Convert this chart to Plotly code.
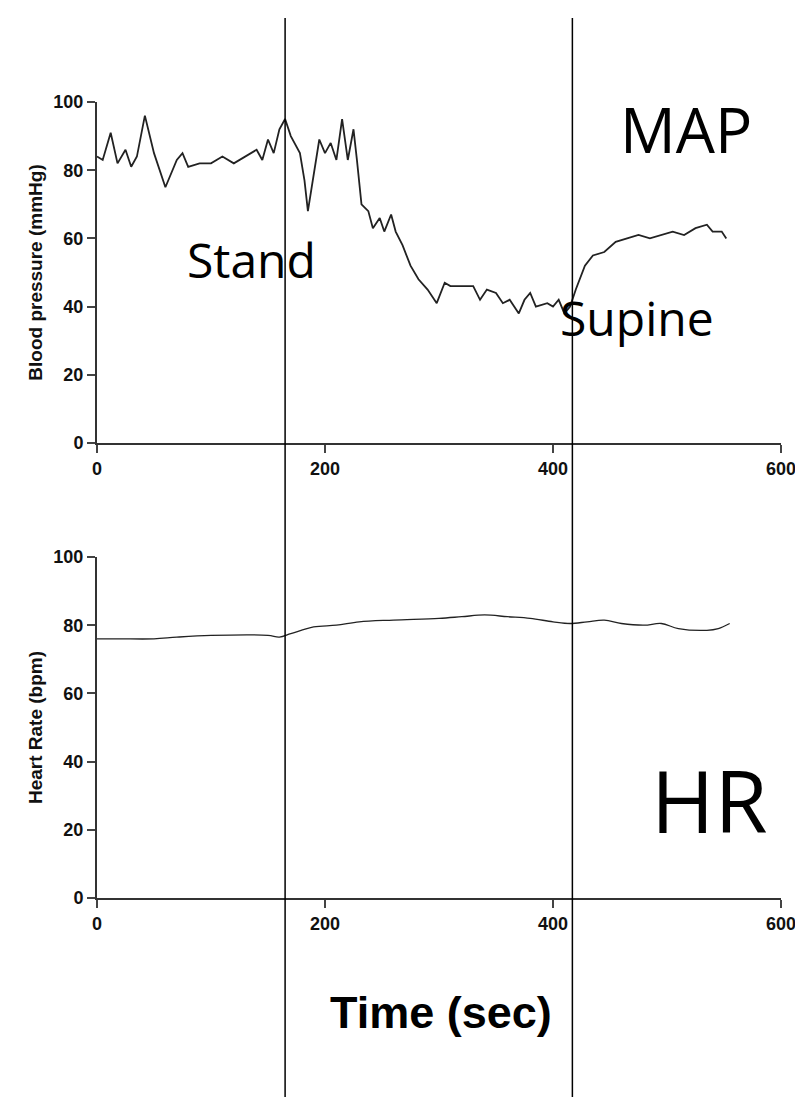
import plotly.graph_objects as go

map_t = [0,5,12,18,25,30,35,42,50,60,70,75,80,90,100,110,120,130,140,145,150,155,160,165,170,178,182,185,190,195,200,205,210,215,220,225,228,232,238,242,248,252,258,262,268,275,282,290,298,305,310,320,330,336,342,350,356,362,370,375,380,385,395,400,405,410,415,420,428,435,445,455,465,475,485,495,505,515,525,535,540,548,552]
map_v = [84,83,91,82,86,81,84,96,85,75,83,85,81,82,82,84,82,84,86,83,89,85,92,95,90,85,77,68,78,89,85,88,83,95,83,92,83,70,68,63,66,62,67,62,58,52,48,45,41,47,46,46,46,42,45,44,41,42,38,42,44,40,41,40,42,38,40,45,52,55,56,59,60,61,60,61,62,61,63,64,62,62,60]
hr_t = [0,20,50,70,100,150,160,170,190,210,230,260,300,320,340,360,380,400,415,430,445,460,480,495,510,535,545,555]
hr_v = [76,76,76,76.5,77,77,76.5,77.5,79.5,80,81,81.5,82,82.5,83,82.5,82,81,80.5,81,81.5,80.5,80,80.5,79,78.5,79,80.5]
event_t = [165, 417]
x_ticks = [0,200,400,600]
y_ticks = [0,20,40,60,80,100]

def fx(px): return (px-12)/783
def fy(py): return 1-(py-16)/1082

fig = go.Figure()
fig.add_trace(go.Scatter(x=map_t, y=map_v, mode="lines", line=dict(color="#222", width=1.8), xaxis="x", yaxis="y"))
fig.add_trace(go.Scatter(x=hr_t, y=hr_v, mode="lines", line=dict(color="#222", width=1.3, shape="spline"), xaxis="x2", yaxis="y2"))

tf = dict(family="Arial Black, Arial", size=18, color="#111")
ax = dict(range=[0,600], tickvals=x_ticks, ticktext=[f"<b>{v}</b>" for v in x_ticks], ticks="outside", ticklen=8, tickwidth=2,
          showline=True, linewidth=2, linecolor="#333", showgrid=False, zeroline=False, tickfont=tf)
ay = dict(range=[0,100], tickvals=y_ticks, ticktext=[f"<b>{v}</b>" for v in y_ticks], ticks="outside", ticklen=8, tickwidth=2,
          showline=True, linewidth=2, linecolor="#333", showgrid=False, zeroline=False, tickfont=tf)
titf = dict(family="Arial", size=19, color="#111")

fig.update_layout(
    width=803, height=1102, margin=dict(l=0, r=0, t=0, b=0), showlegend=False,
    plot_bgcolor="white", paper_bgcolor="white",
    xaxis=dict(**ax, domain=[fx(96), fx(780)], anchor="y"),
    yaxis=dict(**ay, domain=[fy(441), fy(100)], anchor="x",
               title=dict(text="<b>Blood pressure (mmHg)</b>", font=titf, standoff=6)),
    xaxis2=dict(**ax, domain=[fx(96), fx(780)], anchor="y2"),
    yaxis2=dict(**ay, domain=[fy(896), fy(555)], anchor="x2",
                title=dict(text="<b>Heart Rate (bpm)</b>", font=titf, standoff=6)),
)
for t in event_t:
    fig.add_shape(type="line", xref="x", yref="paper", x0=t, x1=t, y0=fy(1095), y1=1.0, line=dict(color="black", width=1.5))

def txt(x, y, s, size, bold=False, fam="Open Sans"):
    fig.add_annotation(x=fx(x), y=fy(y), xref="paper", yref="paper", text=f"<b>{s}</b>" if bold else s,
                       showarrow=False, font=dict(family=fam, size=size, color="black"), xanchor="center", yanchor="middle")
txt(685, 127, "MAP", 62)
txt(250, 258, "Stand", 48)
txt(636, 316, "Supine", 48)
txt(708, 797, "HR", 86)
txt(440, 1010, "Time (sec)", 45, bold=True, fam="Arial")

fig.write_html("out.html")
